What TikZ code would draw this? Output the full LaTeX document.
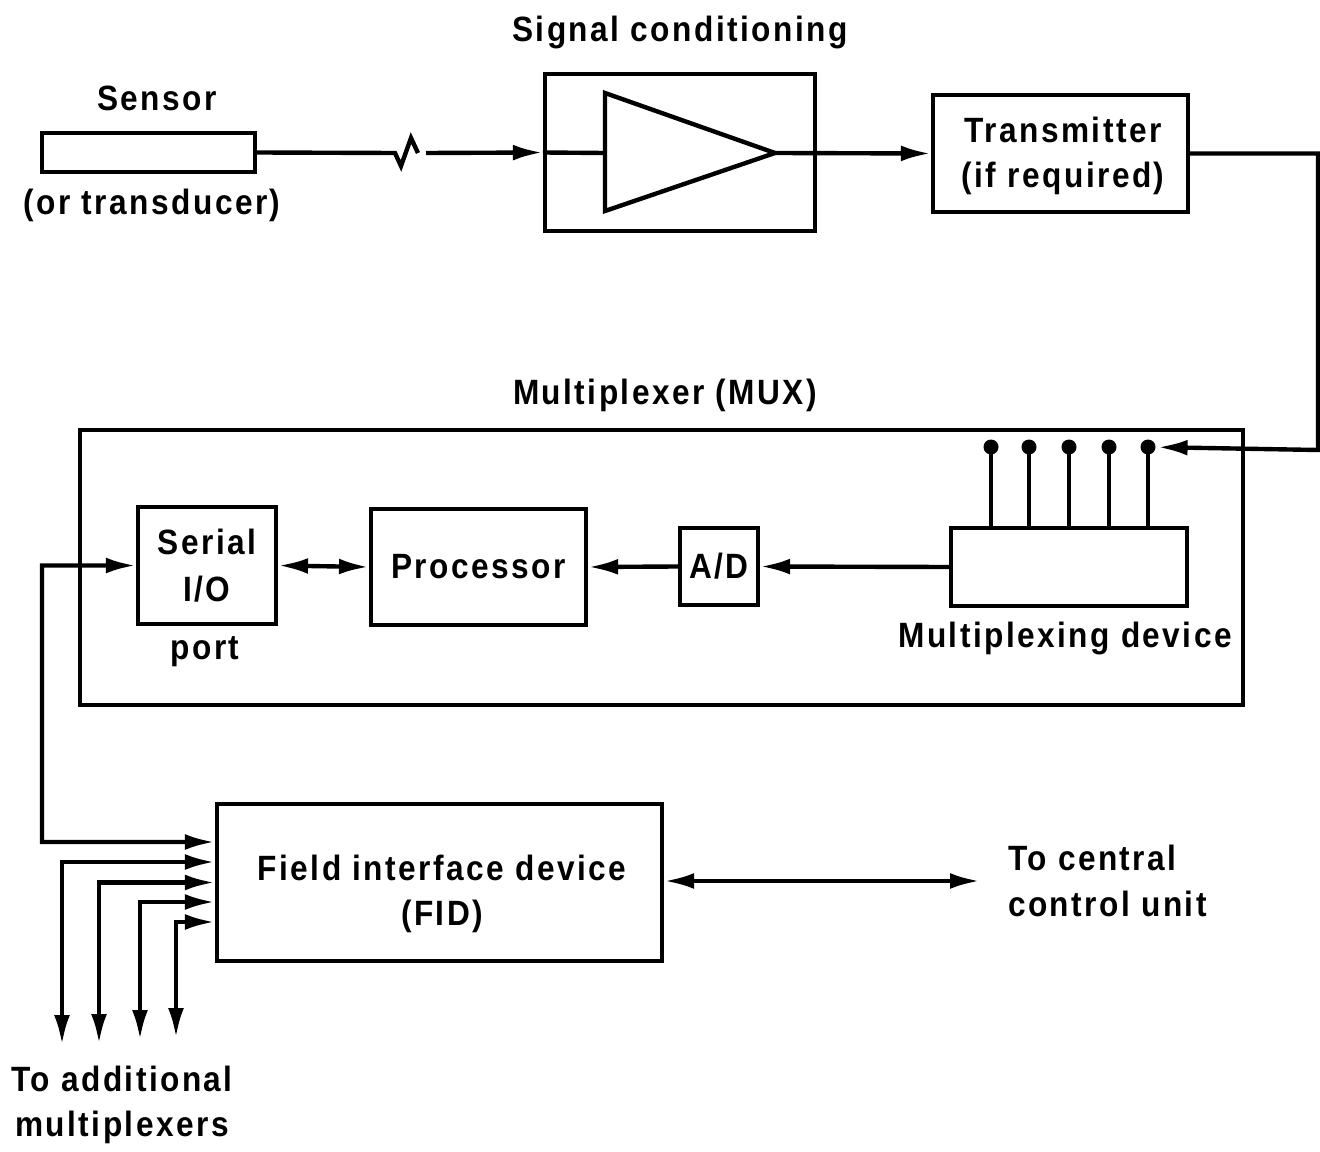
\documentclass[tikz,border=0pt]{standalone}
\usepackage{fontspec}
\setmainfont{Liberation Sans}[FakeStretch=0.9, LetterSpace=7]
\usetikzlibrary{positioning, arrows.meta}

\begin{document}
\begin{tikzpicture}[x=0.02cm, y=-0.02cm, line width=2.5pt,
    >={Latex[length=17pt,width=9pt]},
    blk/.style={draw, line width=2.5pt, inner sep=0pt, align=center,
      font=\bfseries\fontsize{20}{27}\selectfont},
    lbl/.style={font=\bfseries\fontsize{20}{26}\selectfont, align=center},
    dot/.style={circle, fill, inner sep=0pt, minimum size=0.3cm}]
   \useasboundingbox (0,0) rectangle (1320,1152);

   % sensor and signal conditioning
   \node[blk, minimum width=4.26cm, minimum height=0.78cm] (sen) at (148.5,152.5) {};
   \node[lbl] at (157,98) {Sensor};
   \node[lbl] at (152,205) {(or transducer)};
   \node[blk, minimum width=5.4cm, minimum height=3.14cm] (sig) at (680,152.5) {};
   \node[lbl] at (680,32) {Signal conditioning};
   \draw (605,93) coordinate (trin) -- (775,153) coordinate (apex) -- (605,211) -- cycle;
   \coordinate (trim) at (605,153);
   \node[blk, minimum width=5.1cm, minimum height=2.34cm] (tx) at (1060.5,153.5) {};
   \node[lbl] at (1063,156) {Transmitter\\(if required)};

   % wire with break
   \coordinate (b1) at (395,153);
   \coordinate (b2) at (426,153);
   \draw (sen.east) -- (b1) -- ++(6,13) -- ++(10,-28) -- ++(7,15);
   \draw[->] (b2) -- (sig.west);
   \draw (sig.west) -- (trim);
   \draw[->] (apex) -- (tx.west);

   % multiplexer
   \node[blk, minimum width=23.26cm, minimum height=5.5cm] (mux) at (661.5,567.5) {};
   \node[lbl] at (665,395) {Multiplexer (MUX)};
   \node[blk, minimum width=4.72cm, minimum height=1.56cm] (mdev) at (1069,567) {};
   \node[lbl] at (1065,638) {Multiplexing device};
   \node[blk, minimum width=1.56cm, minimum height=1.54cm] (adc) at (719,566.5) {A/D};
   \node[blk, minimum width=4.3cm, minimum height=2.32cm] (proc) at (478.5,567) {Processor};
   \node[blk, minimum width=2.76cm, minimum height=2.34cm] (sio) at (207,565.5) {Serial\\I/O};
   \node[lbl] at (205,652) {port};

   \foreach \x [count=\i] in {991,1029,1069,1109,1148} {
     \node[dot] (d\i) at (\x,447) {};
     \draw (d\i.center) -- (d\i |- mdev.north);
   }
   \coordinate (rc) at (1318,450);
   \draw[->] (tx.east) -| (rc) -- (d5);

   \draw[->] (mdev.west) -- (adc.east);
   \draw[->] (adc.west) -- (proc.east);
   \draw[<->] (sio.east) -- (proc.west);

   % field interface device
   \node[blk, minimum width=8.9cm, minimum height=3.14cm] (fid) at (439.5,882.5) {};
   \node[lbl] at (442,894) {Field interface device\\(FID)};
   \coordinate (c0) at (42,842);
   \draw[<->] (sio.west) -| (c0) -- ([yshift=0.81cm]fid.west);
   \coordinate (t1) at (62,1045);
   \coordinate (t2) at (99,1044);
   \coordinate (t3) at (140,1040);
   \coordinate (t4) at (176,1038);
   \draw[<->] (t1) |- ([yshift=0.41cm]fid.west);
   \draw[<->] (t2) |- ([yshift=0cm]fid.west);
   \draw[<->] (t3) |- ([yshift=-0.39cm]fid.west);
   \draw[<->] (t4) |- ([yshift=-0.79cm]fid.west);
   \node[lbl] at (122,1105) {To additional\\multiplexers};

   \node[lbl, align=left, anchor=west] (cu) at (1000,881) {To central\\control unit};
   \coordinate (ce) at (980,881);
   \draw[<->] (fid.east |- ce) -- (ce);
\end{tikzpicture}
\end{document}
